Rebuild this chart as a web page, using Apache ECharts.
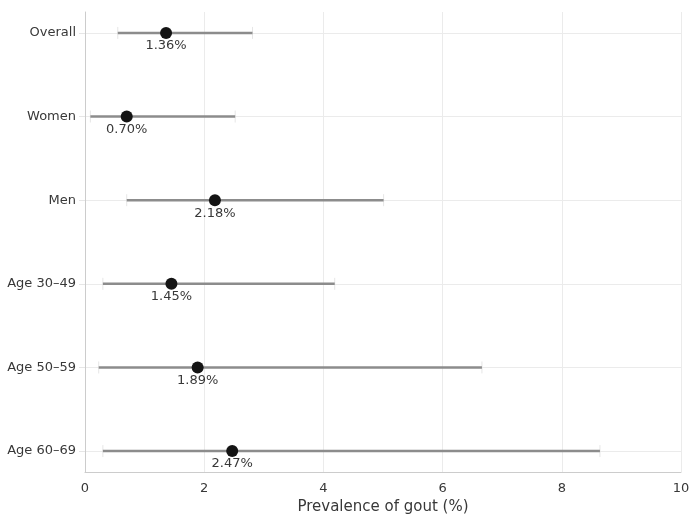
<!DOCTYPE html>
<html><head><meta charset="utf-8">
<script src="https://cdn.jsdelivr.net/npm/echarts@6/dist/echarts.min.js"></script>
<style>html,body{margin:0;padding:0;background:#fff}#c{width:700px;height:524px}</style>
</head><body><div id="c"></div>
<script>
const categories = ['Overall', 'Women', 'Men', 'Age 30–49', 'Age 50–59', 'Age 60–69'];
const estimates = [1.36, 0.70, 2.18, 1.45, 1.89, 2.47];
const lowers = [0.55, 0.09, 0.70, 0.30, 0.23, 0.30];
const uppers = [2.81, 2.52, 5.01, 4.19, 6.66, 8.64];
const xTicks = [0, 2, 4, 6, 8, 10];

const font = 'DejaVu Sans';
const txt = '#383838';
const idx = categories.map((c, i) => i);

const chart = echarts.init(document.getElementById('c'), null, {renderer: 'canvas'});
chart.setOption({
  animation: false,
  backgroundColor: '#fff',
  grid: {left: 85, right: 19, top: 12, bottom: 52, containLabel: false},
  xAxis: {
    type: 'value', min: 0, max: 10, interval: 2,
    name: 'Prevalence of gout (%)', nameLocation: 'middle', nameGap: 27,
    nameTextStyle: {fontFamily: font, fontSize: 15, color: txt},
    axisLine: {show: true, onZero: false, lineStyle: {color: '#cccccc', width: 1}},
    axisTick: {show: false},
    axisLabel: {fontFamily: font, fontSize: 13, color: txt, margin: 10,
      formatter: v => xTicks.includes(v) ? String(v) : ''},
    splitLine: {show: true, lineStyle: {color: '#ebebeb', width: 1}}
  },
  yAxis: {
    type: 'value', min: -0.25, max: 5.25, inverse: true,
    axisLine: {show: true, onZero: false, lineStyle: {color: '#cccccc', width: 1}},
    axisTick: {show: true, length: 6, lineStyle: {color: '#e6e6e6'}, customValues: idx},
    axisLabel: {fontFamily: font, fontSize: 13, color: txt, margin: 9, customValues: idx,
      formatter: v => categories[Math.round(v)] || ''},
    splitLine: {show: true, lineStyle: {color: '#ebebeb', width: 1}}
  },
  series: [
    {
      type: 'custom',
      data: categories.map((c, i) => [lowers[i], uppers[i], i]),
      encode: {x: [0, 1], y: 2},
      renderItem: function (params, api) {
        const a = api.coord([api.value(0), api.value(2)]);
        const b = api.coord([api.value(1), api.value(2)]);
        const cap = 6;
        return {type: 'group', children: [
          {type: 'line', shape: {x1: a[0], y1: a[1] - cap, x2: a[0], y2: a[1] + cap}, style: {stroke: '#e6e6e6', lineWidth: 1}},
          {type: 'line', shape: {x1: b[0], y1: b[1] - cap, x2: b[0], y2: b[1] + cap}, style: {stroke: '#e6e6e6', lineWidth: 1}},
          {type: 'line', shape: {x1: a[0], y1: a[1], x2: b[0], y2: b[1]}, style: {stroke: '#8c8c8c', lineWidth: 2.5}}
        ]};
      },
      z: 3
    },
    {
      type: 'scatter',
      data: categories.map((c, i) => [estimates[i], i]),
      symbol: 'circle', symbolSize: 12,
      itemStyle: {color: '#141414', opacity: 1},
      label: {show: true, position: 'inside', offset: [0, 13], fontFamily: font, fontSize: 13, color: txt,
        formatter: p => p.value[0].toFixed(2) + '%'},
      z: 5
    }
  ]
});
</script></body></html>
